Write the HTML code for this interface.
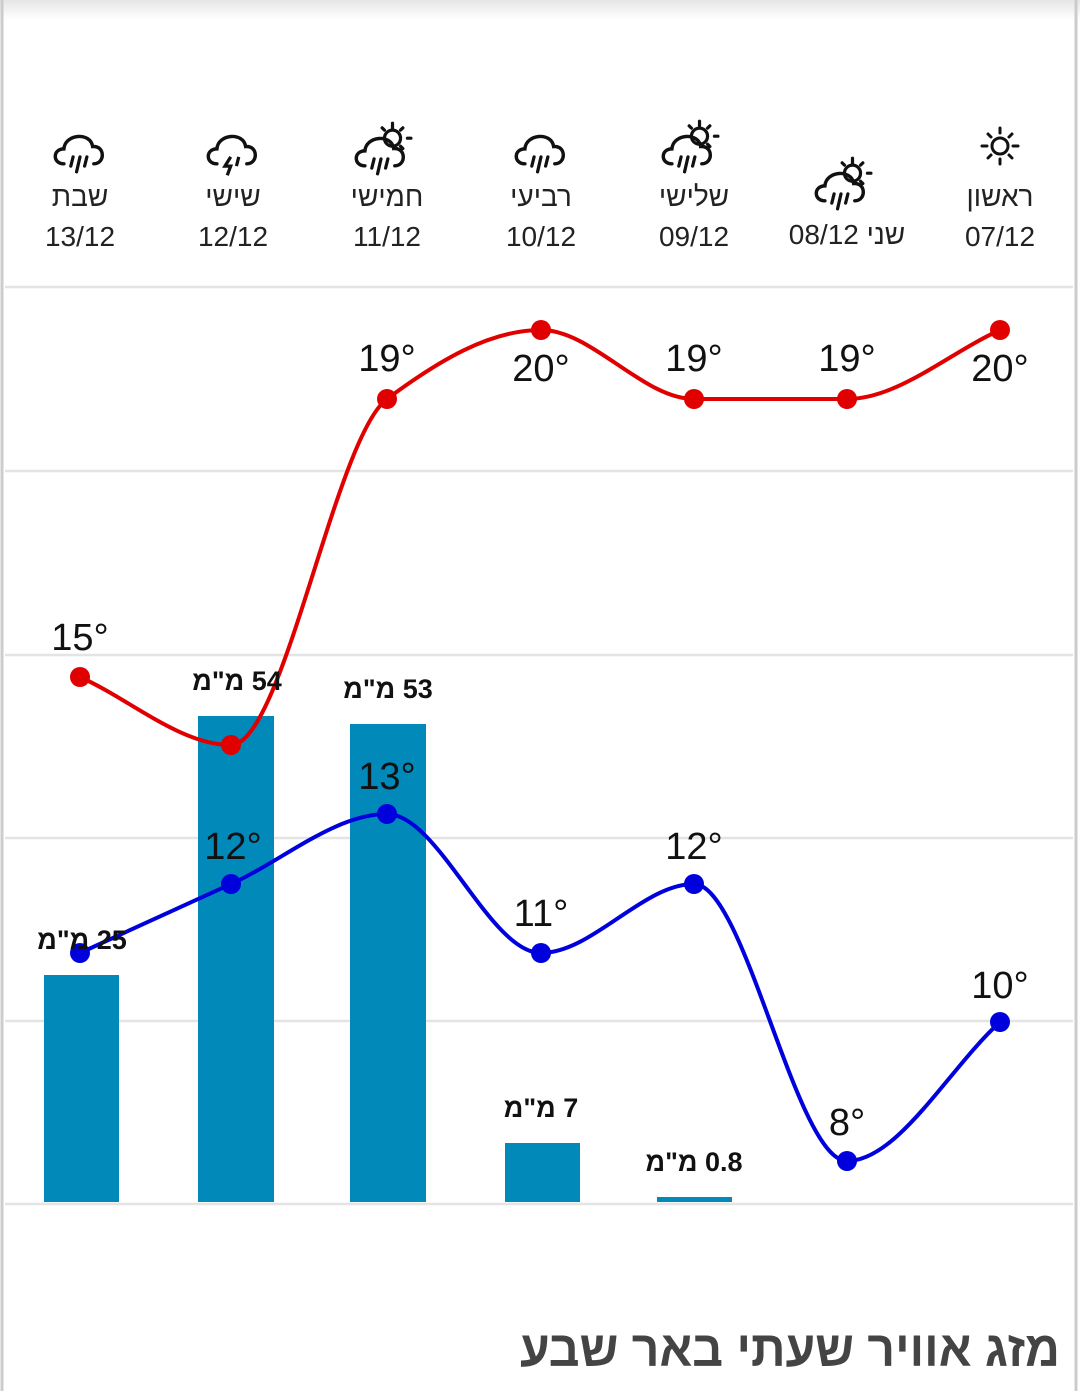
<!DOCTYPE html>
<html><head><meta charset="utf-8"><style>
html,body{margin:0;padding:0;background:#fff;}
svg{display:block;font-family:"Liberation Sans","DejaVu Sans",sans-serif;}
</style></head><body>
<svg id="s" width="1080" height="1391" viewBox="0 0 1080 1391" xmlns="http://www.w3.org/2000/svg">
<defs>
<linearGradient id="sh" x1="0" y1="0" x2="0" y2="1"><stop offset="0" stop-color="#e6e6e6"/><stop offset="1" stop-color="#fff"/></linearGradient>
<g id="cloud"><path d="M-14,12 C-24,12 -24,-1 -14,-1 C-13,-14 9,-16 11,-3 C22,-4 22,12 12,12" fill="none" stroke="#111" stroke-width="3" stroke-linecap="round"/></g>
<g id="rain" stroke="#111" stroke-width="2.8" stroke-linecap="round"><line x1="-6" y1="6" x2="-8" y2="14"/><line x1="0" y1="6" x2="-3" y2="19"/><line x1="6" y1="6" x2="4" y2="14"/></g>
<g id="sunr" stroke="#111" stroke-width="2.8" stroke-linecap="round"><line x1="0" y1="-13" x2="0" y2="-9"/><line x1="9" y1="-9" x2="7" y2="-7"/><line x1="13" y1="0" x2="16" y2="0"/><line x1="9" y1="9" x2="7" y2="7"/><line x1="-9" y1="-9" x2="-7" y2="-7"/></g>
</defs>
<rect x="0" y="0" width="1080" height="20" fill="url(#sh)"/>
<line x1="2" y1="0" x2="2" y2="1391" stroke="#ccc" stroke-width="3"/>
<line x1="1076" y1="0" x2="1076" y2="1391" stroke="#ccc" stroke-width="3"/>
<g stroke="#e4e4e4" stroke-width="2.5">
<line x1="5" y1="287" x2="1073" y2="287"/><line x1="5" y1="471" x2="1073" y2="471"/>
<line x1="5" y1="655" x2="1073" y2="655"/><line x1="5" y1="838" x2="1073" y2="838"/>
<line x1="5" y1="1021" x2="1073" y2="1021"/><line x1="5" y1="1204" x2="1073" y2="1204"/>
</g>
<!-- icons -->
<g transform="translate(80,150) scale(1.15)"><use href="#cloud"/><use href="#rain"/></g>
<g transform="translate(233,150) scale(1.15)"><use href="#cloud"/><path d="M-2,6 L-7,14 L-2,14 L-5,22" fill="none" stroke="#111" stroke-width="2.8"/><line x1="5" y1="6" x2="3" y2="14" stroke="#111" stroke-width="2.8"/></g>
<g transform="translate(381,152) scale(1.15)"><use href="#cloud"/><use href="#rain"/><g transform="translate(10,-12)"><circle r="7" fill="none" stroke="#111" stroke-width="2.8"/><use href="#sunr"/></g></g>
<g transform="translate(541,150) scale(1.15)"><use href="#cloud"/><use href="#rain"/></g>
<g transform="translate(688,150) scale(1.15)"><use href="#cloud"/><use href="#rain"/><g transform="translate(10,-12)"><circle r="7" fill="none" stroke="#111" stroke-width="2.8"/><use href="#sunr"/></g></g>
<g transform="translate(841,187) scale(1.15)"><use href="#cloud"/><use href="#rain"/><g transform="translate(10,-12)"><circle r="7" fill="none" stroke="#111" stroke-width="2.8"/><use href="#sunr"/></g></g>
<g transform="translate(1000,146)" stroke="#111" stroke-width="3" stroke-linecap="round" fill="none"><circle r="8"/><line x1="0" y1="-13" x2="0" y2="-18"/><line x1="0" y1="13" x2="0" y2="18"/><line x1="-13" y1="0" x2="-18" y2="0"/><line x1="13" y1="0" x2="18" y2="0"/><line x1="9" y1="-9" x2="12" y2="-12"/><line x1="-9" y1="-9" x2="-12" y2="-12"/><line x1="9" y1="9" x2="12" y2="12"/><line x1="-9" y1="9" x2="-12" y2="12"/></g>
<g font-size="28" fill="#222" text-anchor="middle">
<text x="80" y="206">שבת</text><text x="80" y="246">13/12</text>
<text x="233" y="206">שישי</text><text x="233" y="246">12/12</text>
<text x="387" y="206">חמישי</text><text x="387" y="246">11/12</text>
<text x="541" y="206">רביעי</text><text x="541" y="246">10/12</text>
<text x="694" y="206">שלישי</text><text x="694" y="246">09/12</text>
<text x="847" y="244">08/12 שני</text>
<text x="1000" y="206">ראשון</text><text x="1000" y="246">07/12</text>
</g>
<!-- bars -->
<g fill="#0089b9">
<rect x="44" y="975" width="75" height="227"/>
<rect x="198" y="716" width="76" height="486"/>
<rect x="350" y="724" width="76" height="478"/>
<rect x="505" y="1143" width="75" height="59"/>
<rect x="657" y="1197" width="75" height="5"/>
</g>
<path id="red" fill="none" stroke="#e00000" stroke-width="4"/>
<path id="blue" fill="none" stroke="#0000dd" stroke-width="4"/>
<g id="dots"></g>
<g font-size="27" font-weight="bold" fill="#111" text-anchor="middle" direction="rtl">
<text x="82" y="949">25 מ"מ</text>
<text x="237" y="690">54 מ"מ</text>
<text x="388" y="698">53 מ"מ</text>
<text x="541" y="1117">7 מ"מ</text>
<text x="694" y="1171">0.8 מ"מ</text>
</g>
<g font-size="38" fill="#111" text-anchor="middle">
<text x="80" y="650">15°</text>
<text x="387" y="371">19°</text><text x="541" y="381">20°</text>
<text x="694" y="371">19°</text><text x="847" y="371">19°</text><text x="1000" y="381">20°</text>
<text x="233" y="859">12°</text><text x="387" y="789">13°</text><text x="541" y="926">11°</text>
<text x="694" y="859">12°</text><text x="847" y="1135">8°</text><text x="1000" y="998">10°</text>
</g>
<text x="1060" y="1366" font-size="50" font-weight="bold" fill="#444" text-anchor="end" textLength="540" lengthAdjust="spacingAndGlyphs">מזג אוויר שעתי באר שבע</text>
</svg>
<script>
var xs=[80,231,387,541,694,847,1000];
var R=[677,745,399,330,399,399,330],B=[953,884,814,953,884,1161,1022];
function mono(x,y){var n=x.length,d=[],m=[],i;for(i=0;i<n-1;i++)d.push((y[i+1]-y[i])/(x[i+1]-x[i]));
m[0]=d[0];m[n-1]=d[n-2];for(i=1;i<n-1;i++){var h0=x[i]-x[i-1],h1=x[i+1]-x[i];if(d[i-1]*d[i]>0){m[i]=(3*(h0+h1))/((2*h1+h0)/d[i-1]+(h1+2*h0)/d[i]);}else m[i]=0;}
var s="M"+x[0]+","+y[0];for(i=0;i<n-1;i++){var h=(x[i+1]-x[i])/3;s+=" C"+(x[i]+h)+","+(y[i]+m[i]*h)+" "+(x[i+1]-h)+","+(y[i+1]-m[i+1]*h)+" "+x[i+1]+","+y[i+1];}return s;}
document.getElementById('red').setAttribute('d',mono(xs,R));
document.getElementById('blue').setAttribute('d',mono(xs,B));
var g=document.getElementById('dots'),h='';
for(var i=0;i<7;i++){h+='<circle cx="'+xs[i]+'" cy="'+R[i]+'" r="10" fill="#e00000"/><circle cx="'+xs[i]+'" cy="'+B[i]+'" r="10" fill="#0000dd"/>';}
g.innerHTML=h;
</script>
</body></html>
